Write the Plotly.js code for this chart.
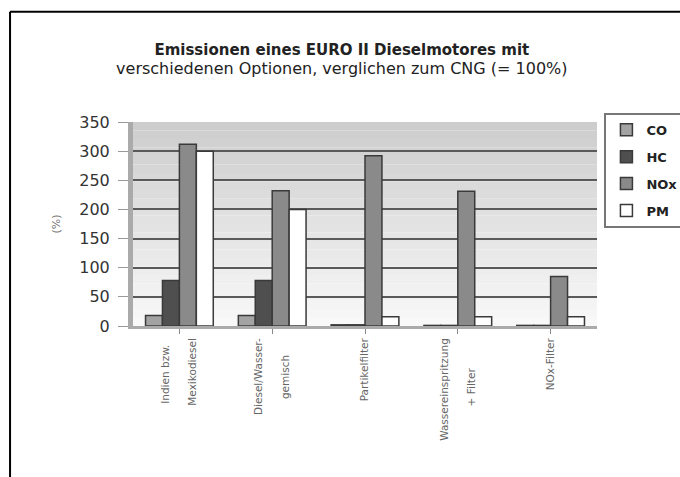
<!DOCTYPE html>
<html>
<head>
<meta charset="utf-8">
<script src="https://cdn.plot.ly/plotly-3.0.1.min.js"></script>
<style>html,body{margin:0;padding:0;background:#fff;}#chart{width:680px;height:477px;}</style>
</head>
<body>
<div id="chart"></div>
<script>
const categories = [
  "Indien bzw.&nbsp;&nbsp;<br> <br>Mexikodiesel",
  "Diesel/Wasser-<br> <br>gemisch&nbsp;&nbsp;&nbsp;&nbsp;&nbsp;",
  "Partikelfilter",
  "Wassereinspritzung<br> <br>+ Filter&nbsp;&nbsp;&nbsp;&nbsp;&nbsp;&nbsp;&nbsp;&nbsp;&nbsp;",
  "NOx-Filter"
];
const seriesNames = ["CO", "HC", "NOx", "PM"];
const coValues = [18, 18, 2, 1, 1];
const hcValues = [78, 78, 2, 1, 1];
const noxValues = [312, 232, 292, 231, 85];
const pmValues = [300, 200, 16, 16, 16];
const yTicks = [0, 50, 100, 150, 200, 250, 300, 350];

const colors = ["#a3a3a3", "#4f4f4f", "#8a8a8a", "#ffffff"];
const values = [coValues, hcValues, noxValues, pmValues];

const traces = seriesNames.map((n, i) => ({
  type: "bar",
  name: n,
  legendgroup: "g" + i,
  x: categories,
  y: values[i],
  marker: {color: colors[i], line: {color: "#3a3a3a", width: 1.5}},
  hoverinfo: "skip"
}));

// plot area background bands (gradient imitation)
const shapes = [];
const nb = 24;
for (let k = 0; k < nb; k++) {
  const t = k / (nb - 1);
  const g = Math.round(248 - (248 - 205) * t);
  shapes.push({type: "rect", xref: "paper", yref: "paper", x0: 0, x1: 1, y0: k / nb, y1: (k + 1) / nb,
    fillcolor: `rgb(${g},${g},${g})`, line: {width: 0}, layer: "below"});
}
// outer frame
shapes.push({type: "line", xref: "paper", yref: "paper", x0: -0.265, x1: -0.265, y0: 1.54, y1: -1.0, line: {color: "#000", width: 2}});
shapes.push({type: "line", xref: "paper", yref: "paper", x0: -0.265, x1: 1.4, y0: 1.54, y1: 1.54, line: {color: "#000", width: 2}});

const layout = {
  width: 680, height: 477,
  margin: {l: 133, r: 83, t: 122, b: 151, autoexpand: false},
  paper_bgcolor: "#ffffff",
  plot_bgcolor: "rgba(0,0,0,0)",
  font: {family: "DejaVu Sans, Verdana, sans-serif", color: "#333"},
  title: {
    text: "<b>Emissionen eines EURO II Dieselmotores mit</b><br><span style='font-size:16px'>verschiedenen Optionen, verglichen zum CNG (= 100%)</span>",
    x: 0.45, xref: "paper", xanchor: "center", y: 0.885, yanchor: "top",
    font: {size: 15, color: "#222", family: "DejaVu Sans, Verdana, sans-serif"}
  },
  barmode: "group",
  bargap: 0.27,
  bargroupgap: 0,
  showlegend: true,
  legend: {
    x: 1.016, xanchor: "left", y: 1.045, yanchor: "top",
    bordercolor: "#777", borderwidth: 2, bgcolor: "#fff",
    font: {size: 13, color: "#222", weight: "bold"},
    traceorder: "grouped", tracegroupgap: 7, itemwidth: 30
  },
  xaxis: {
    tickangle: -90,
    tickfont: {size: 10.5, color: "#666"},
    showline: true, linecolor: "#aaa", linewidth: 3,
    ticks: "outside", tickcolor: "#888", ticklen: 5,
    showgrid: false, fixedrange: true
  },
  yaxis: {
    range: [0, 350],
    tickvals: yTicks,
    ticktext: yTicks.map(String),
    tickfont: {size: 16, color: "#333"},
    showline: true, linecolor: "#aaa", linewidth: 5,
    ticks: "outside", tickcolor: "#999", ticklen: 10,
    ticklabelstandoff: 5,
    gridcolor: "#5a5a5a", gridwidth: 2,
    zeroline: false,
    title: {text: "(%)", font: {size: 11, color: "#777"}, standoff: 18},
    fixedrange: true
  },
  shapes: shapes
};

Plotly.newPlot("chart", traces, layout, {displayModeBar: false, staticPlot: true});
</script>
</body>
</html>
